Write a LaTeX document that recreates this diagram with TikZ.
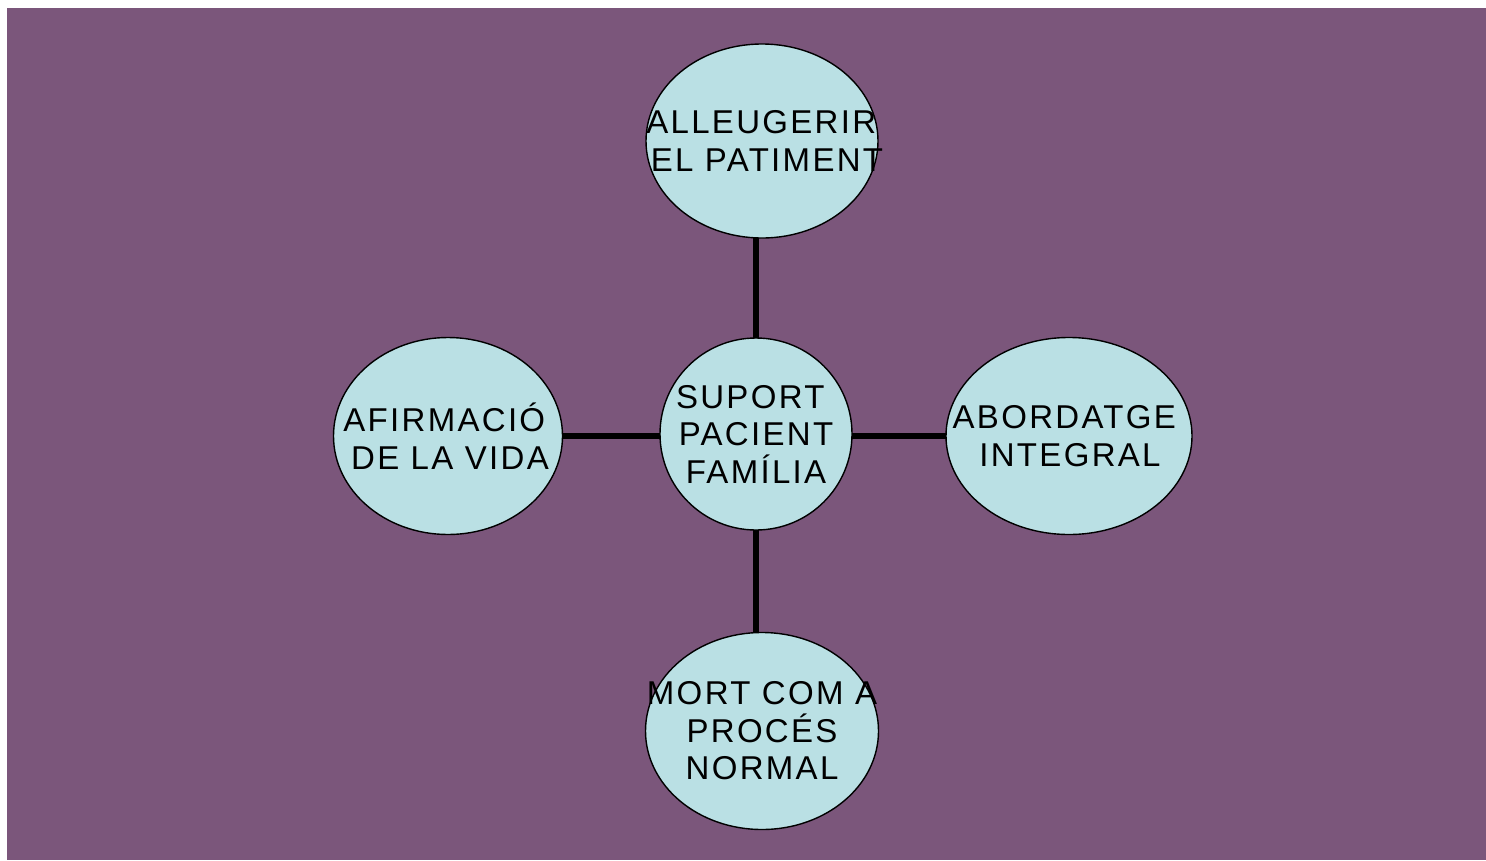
\documentclass[tikz,border=0pt]{standalone}
\usepackage{fontspec}
\setmainfont{Liberation Sans}[LetterSpace=7]
\usetikzlibrary{shapes.geometric}
\definecolor{plum}{HTML}{7B567B}
\definecolor{paleaqua}{HTML}{BAE0E4}
% trailing word space kept at the end of a centred line
\newcommand{\tailspace}{\hspace*{11.5pt}}
\begin{document}
\begin{tikzpicture}[x=1pt,y=-1pt,
  bubble/.style={ellipse,draw=black,line width=1.4pt,fill=paleaqua,inner sep=0pt},
  caption/.style={align=center,inner sep=0pt,font=\fontsize{33}{37.5}\selectfont,text=black},
  link/.style={line width=6.8pt,black}]
  % canvas
  \useasboundingbox (0,0) rectangle (1486,860);
  \fill[white] (0,0) rectangle (1486,860);
  \fill[plum] (7,8) rectangle (1486,860);
  % spokes, drawn first so the ellipses sit on top
  \coordinate (hub) at (756,434);
  \coordinate (spokeN) at (756,238);
  \coordinate (spokeS) at (756,633);
  \coordinate (spokeW) at (562,436);
  \coordinate (spokeE) at (946,436);
  \draw[link] (spokeN) -- (spokeS);
  \draw[link] (spokeW) -- (spokeE);
  % ellipses
  \node[bubble,minimum width=192pt,minimum height=192pt,
        label={[caption]center:{SUPORT\tailspace\\PACIENT\\FAMÍLIA}}] (mid) at (hub) {};
  \node[bubble,minimum width=232pt,minimum height=194pt,
        label={[caption,xshift=5pt]center:{ALLEUGERIR\tailspace\\EL PATIMENT}}] (top) at (762,141) {};
  \node[bubble,minimum width=229pt,minimum height=197pt,
        label={[caption,xshift=2pt]center:{AFIRMACIÓ\tailspace\\DE LA VIDA}}] (left) at (448,436) {};
  \node[bubble,minimum width=246pt,minimum height=197pt,
        label={[caption,xshift=1pt]center:{ABORDATGE\tailspace\\INTEGRAL}}] (right) at (1069,436) {};
  \node[bubble,minimum width=233pt,minimum height=197pt,
        label={[caption]center:{MORT COM A\\PROCÉS\\NORMAL}}] (bottom) at (762,731) {};
\end{tikzpicture}
\end{document}
